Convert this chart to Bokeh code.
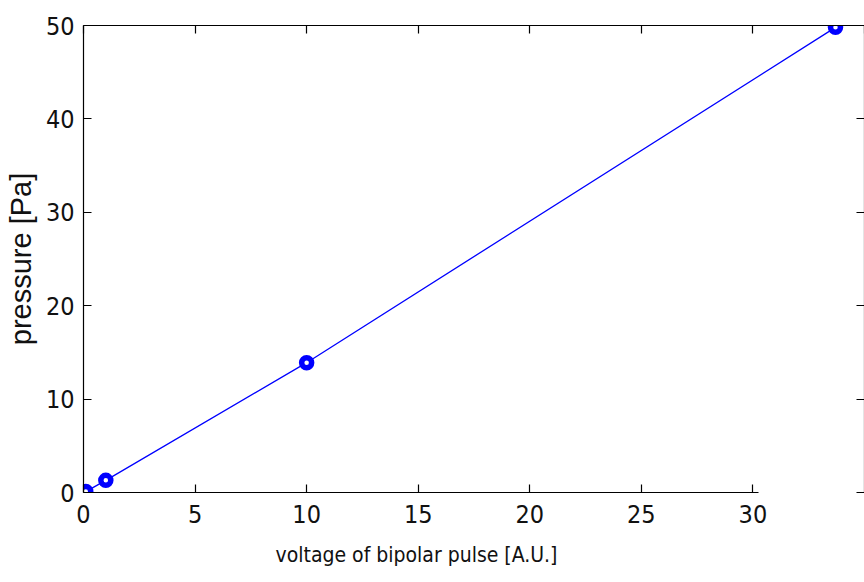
from bokeh.plotting import figure
from bokeh.models import LinearAxis, Range1d, FixedTicker, Title
from bokeh.embed import file_html
from bokeh.resources import INLINE

# data
voltage = [0.1, 1.0, 10.0, 33.7]
pressure = [0.1, 1.3, 13.9, 49.8]
x_ticks = [0, 5, 10, 15, 20, 25, 30]
x_ticks_top = [0, 5, 10, 15, 20, 25, 30, 35]
y_ticks = [0, 10, 20, 30, 40, 50]
x_label = "voltage of bipolar pulse [A.U.]"
y_label = "pressure [Pa]"

TICK_FONT = "Liberation Sans Narrow, DejaVu Sans Condensed, Arial Narrow, sans-serif"
LABEL_FONT = "Liberation Sans Narrow, DejaVu Sans Condensed, Arial Narrow, sans-serif"

p = figure(width=864, height=582, x_range=Range1d(0, 35), y_range=Range1d(0, 50),
           output_backend="svg", toolbar_location=None,
           x_axis_location=None, y_axis_location=None,
           min_border_left=83, min_border_top=25, min_border_bottom=90, min_border_right=0)
p.outline_line_color = None
p.background_fill_color = "white"
p.border_fill_color = "white"


def style(ax, labels=True):
    ax.axis_line_color = "black"
    ax.axis_line_width = 1.2
    ax.major_tick_line_color = "black"
    ax.major_tick_line_width = 1.2
    ax.major_tick_in = 8
    ax.major_tick_out = 0
    ax.minor_tick_line_color = None
    if labels:
        ax.major_label_text_font = TICK_FONT
        ax.major_label_text_font_size = "25px"
        ax.major_label_text_color = "#111111"
    else:
        ax.major_label_text_font_size = "0px"
        ax.major_label_standoff = 0
        ax.major_label_text_color = None


bottom = LinearAxis(ticker=FixedTicker(ticks=x_ticks), bounds=(0, 30.25))
style(bottom)
bottom.major_label_standoff = 12
p.add_layout(bottom, "below")

left = LinearAxis(ticker=FixedTicker(ticks=y_ticks), axis_label=y_label)
style(left)
left.major_label_standoff = 9
left.axis_label_text_font = "Liberation Sans, Arial, sans-serif"
left.axis_label_text_font_style = "normal"
left.axis_label_text_font_size = "29px"
left.axis_label_text_color = "#111111"
left.axis_label_standoff = 6
p.add_layout(left, "left")

top = LinearAxis(ticker=FixedTicker(ticks=x_ticks_top))
style(top, labels=False)
p.add_layout(top, "above")

right = LinearAxis(ticker=FixedTicker(ticks=y_ticks))
style(right, labels=False)
p.add_layout(right, "right")

p.xgrid.visible = False
p.ygrid.visible = False

p.line(voltage, pressure, line_color="#0000ff", line_width=1.3)
p.scatter(voltage, pressure, marker="circle", size=10, line_color="#0000ff",
          line_width=5.5, fill_color="white")

xt = Title(text=x_label, align="left", offset=192, standoff=31,
           text_font=LABEL_FONT, text_font_size="21px", text_font_style="normal",
           text_color="#111111")
p.add_layout(xt, "below")

open("out.html", "w").write(file_html(p, INLINE))
